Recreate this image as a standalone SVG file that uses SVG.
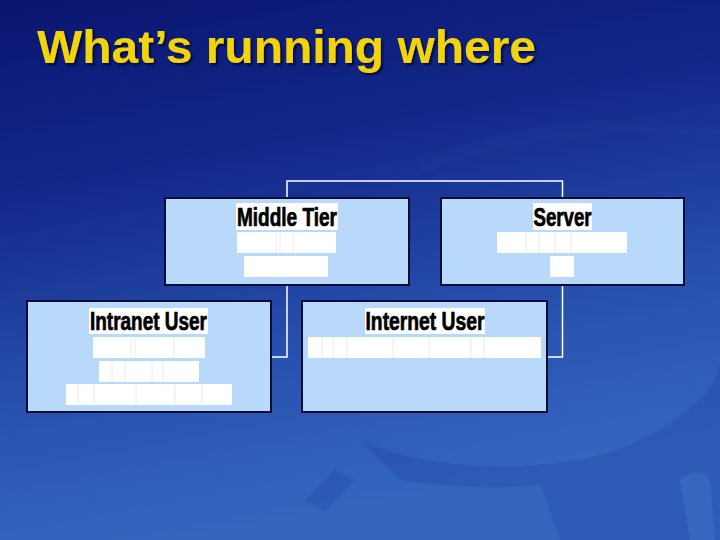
<svg xmlns="http://www.w3.org/2000/svg" width="720" height="540" viewBox="0 0 720 540">
  <defs>
    <linearGradient id="bg" x1="0" y1="0" x2="0.25" y2="1">
      <stop offset="0" stop-color="#0a1570"/>
      <stop offset="0.35" stop-color="#13288a"/>
      <stop offset="0.7" stop-color="#2750ae"/>
      <stop offset="1" stop-color="#3466be"/>
    </linearGradient>
    <filter id="sh" x="-5%" y="-20%" width="110%" height="140%">
      <feDropShadow dx="2" dy="2" stdDeviation="0.8" flood-color="#000020" flood-opacity="0.8"/>
    </filter>
  </defs>
  <style>
    .box { fill: #b8d9fa; stroke: #0a0c38; stroke-width: 2; }
    .lab { fill: #ffffff; }
    .blank { fill: #ffffff; }
    .div { stroke: #e4ecf6; stroke-width: 1; }
    .lt { font-family: "Liberation Sans", Arial, sans-serif; font-weight: bold; font-size: 25px; fill: #000000; stroke: #000000; stroke-width: 0.7; text-anchor: middle; }
    .conn { fill: none; stroke: #ffffff; stroke-width: 1.5; }
    .title { font-family: "Liberation Sans", Arial, sans-serif; font-weight: bold; font-size: 47px; fill: #f2d40a; }
  </style>
  <rect x="0" y="0" width="720" height="540" fill="url(#bg)"/>
  <g fill="#1c3c9c" opacity="0.25">
    <path d="M360,440 C420,470 560,480 640,440 C700,410 720,380 720,360 L720,420 C660,480 520,500 400,480 Z"/>
    <path d="M305,500 L335,470 L355,480 L325,512 Z"/>
    <path d="M535,470 L600,455 L720,420 L720,540 L560,540 Z"/>
    <path d="M680,480 C690,470 705,470 710,480 L715,540 L690,540 Z" fill="#3a6ac4"/>
  </g>
  <path d="M420,160 C520,120 640,110 720,130 L720,140 C640,125 520,135 420,175 Z" fill="#2a4aa8" opacity="0.12"/>

  <text class="title" x="37" y="63" textLength="499" lengthAdjust="spacingAndGlyphs" filter="url(#sh)">What’s running where</text>

  <g id="connectors">
    <path class="conn" d="M272,357 H287 V181 H562.5 V357 H547"/>
  </g>

  <g id="middle-tier">
    <rect class="box" x="165" y="198" width="244" height="87"/>
    <rect class="lab" x="236" y="203" width="102" height="27"/>
    <text class="lt" x="287" y="226" textLength="100" lengthAdjust="spacingAndGlyphs">Middle Tier</text>
    <rect class="blank" x="237" y="232" width="99" height="21"/>
    <line class="div" x1="276" y1="232" x2="276" y2="253"/>
    <line class="div" x1="280" y1="232" x2="280" y2="253"/>
    <line class="div" x1="293" y1="232" x2="293" y2="253"/>
    <rect class="blank" x="244" y="256" width="84" height="21"/>
  </g>

  <g id="server">
    <rect class="box" x="441" y="198" width="243" height="87"/>
    <rect class="lab" x="533" y="203" width="59" height="27"/>
    <text class="lt" x="562.5" y="226" textLength="58" lengthAdjust="spacingAndGlyphs">Server</text>
    <rect class="blank" x="497" y="232" width="130" height="21"/>
    <line class="div" x1="526" y1="232" x2="526" y2="253"/>
    <line class="div" x1="539" y1="232" x2="539" y2="253"/>
    <line class="div" x1="555" y1="232" x2="555" y2="253"/>
    <line class="div" x1="571" y1="232" x2="571" y2="253"/>
    <rect class="blank" x="550" y="256" width="24" height="21"/>
  </g>

  <g id="intranet-user">
    <rect class="box" x="27" y="301" width="244" height="111"/>
    <rect class="lab" x="89" y="308" width="119" height="26"/>
    <text class="lt" x="148.5" y="330" textLength="117" lengthAdjust="spacingAndGlyphs">Intranet User</text>
    <rect class="blank" x="93" y="337" width="112" height="21"/>
    <line class="div" x1="131" y1="337" x2="131" y2="358"/>
    <line class="div" x1="135" y1="337" x2="135" y2="358"/>
    <line class="div" x1="174" y1="337" x2="174" y2="358"/>
    <rect class="blank" x="99" y="361" width="100" height="21"/>
    <line class="div" x1="112" y1="361" x2="112" y2="382"/>
    <line class="div" x1="125" y1="361" x2="125" y2="382"/>
    <line class="div" x1="152" y1="361" x2="152" y2="382"/>
    <line class="div" x1="163" y1="361" x2="163" y2="382"/>
    <rect class="blank" x="66" y="384" width="166" height="21"/>
    <line class="div" x1="78" y1="384" x2="78" y2="405"/>
    <line class="div" x1="94" y1="384" x2="94" y2="405"/>
    <line class="div" x1="136" y1="384" x2="136" y2="405"/>
    <line class="div" x1="175" y1="384" x2="175" y2="405"/>
    <line class="div" x1="202" y1="384" x2="202" y2="405"/>
  </g>

  <g id="internet-user">
    <rect class="box" x="302" y="301" width="245" height="111"/>
    <rect class="lab" x="365" y="308" width="120" height="26"/>
    <text class="lt" x="425" y="330" textLength="119" lengthAdjust="spacingAndGlyphs">Internet User</text>
    <rect class="blank" x="308" y="337" width="233" height="21"/>
    <line class="div" x1="322" y1="337" x2="322" y2="358"/>
    <line class="div" x1="333" y1="337" x2="333" y2="358"/>
    <line class="div" x1="347" y1="337" x2="347" y2="358"/>
    <line class="div" x1="393" y1="337" x2="393" y2="358"/>
    <line class="div" x1="429" y1="337" x2="429" y2="358"/>
    <line class="div" x1="471" y1="337" x2="471" y2="358"/>
    <line class="div" x1="484" y1="337" x2="484" y2="358"/>
  </g>
</svg>
